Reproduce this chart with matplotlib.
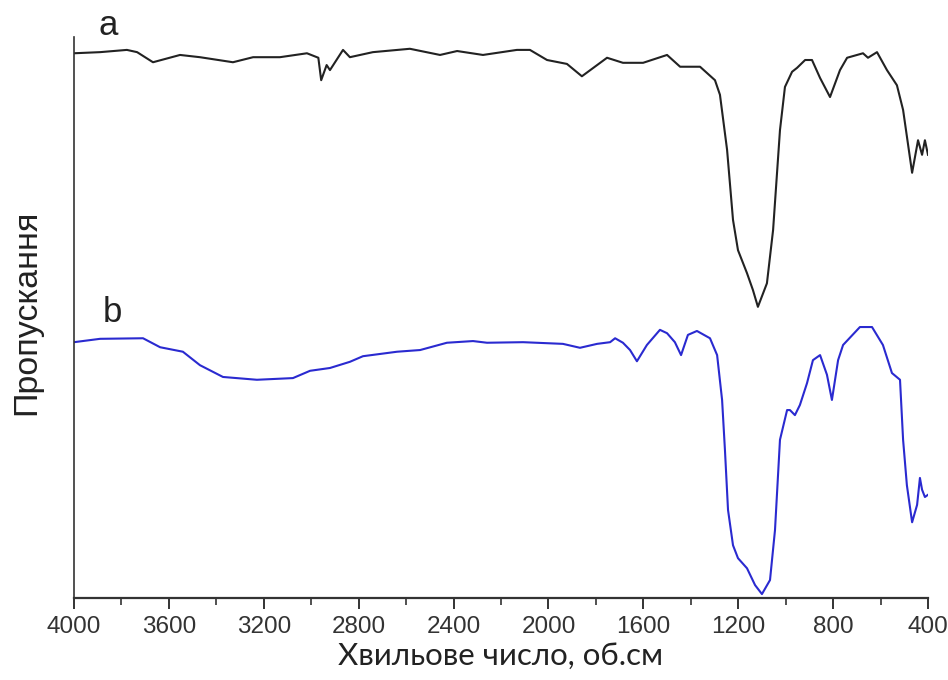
import matplotlib.pyplot as plt
from matplotlib.ticker import MultipleLocator

# спектр a (чорний)
wn_a = [4000, 3890, 3777, 3734, 3667, 3553, 3469, 3330, 3245, 3132, 3018, 2970,
        2958, 2935, 2921, 2866, 2837, 2794, 2740, 2584, 2457, 2385, 2276, 2133,
        2078, 2006, 1922, 1859, 1753, 1686, 1601, 1500, 1445, 1361, 1298, 1277,
        1247, 1222, 1201, 1163, 1138, 1117, 1079, 1053, 1024, 1003, 973, 952,
        918, 889, 855, 813, 771, 741, 674, 653, 615, 573, 531, 505, 467, 442,
        425, 413, 400]
t_a = [97.1, 97.3, 97.7, 97.3, 95.5, 96.8, 96.4, 95.5, 96.4, 96.4, 97.1, 96.3,
       92.3, 95.0, 94.1, 97.7, 96.4, 96.8, 97.3, 97.9, 96.8, 97.5, 96.8, 97.7,
       97.7, 95.9, 95.2, 93.0, 96.3, 95.4, 95.4, 96.8, 94.7, 94.7, 92.3, 89.7,
       79.9, 67.4, 62.0, 57.9, 54.9, 51.9, 56.1, 65.6, 83.4, 91.1, 93.8, 94.5,
       95.9, 95.9, 92.7, 89.3, 94.1, 96.3, 97.1, 96.3, 97.3, 94.1, 91.4, 87.0,
       75.8, 81.6, 79.0, 81.6, 79.0]

# спектр b (синій)
wn_b = [4000, 3890, 3709, 3637, 3541, 3469, 3372, 3229, 3077, 3005, 2921, 2837,
        2782, 2638, 2541, 2428, 2318, 2259, 2107, 1939, 1867, 1795, 1740, 1719,
        1686, 1656, 1627, 1585, 1530, 1500, 1467, 1441, 1412, 1374, 1319, 1289,
        1268, 1256, 1243, 1222, 1201, 1163, 1129, 1100, 1066, 1045, 1024, 994,
        982, 961, 940, 910, 885, 855, 826, 805, 779, 758, 687, 636, 590, 552,
        518, 505, 489, 467, 446, 434, 425, 413, 400]
t_b = [45.6, 46.2, 46.3, 44.7, 43.9, 41.5, 39.4, 38.9, 39.2, 40.5, 41.0, 42.1,
       43.1, 43.9, 44.2, 45.5, 45.8, 45.5, 45.6, 45.3, 44.6, 45.3, 45.6, 46.3,
       45.5, 44.2, 42.2, 45.1, 47.8, 47.2, 45.6, 43.3, 46.9, 47.6, 46.3, 43.3,
       35.3, 26.4, 15.7, 9.4, 7.1, 5.3, 2.3, 0.7, 3.2, 12.1, 28.2, 33.5,
       33.5, 32.6, 34.4, 38.3, 42.4, 43.3, 39.8, 35.3, 42.4, 45.1, 48.3, 48.3,
       45.1, 40.1, 38.9, 28.2, 20.1, 13.5, 16.6, 21.4, 19.3, 18.0, 18.4]

plt.rcParams['font.family'] = ['Liberation Sans', 'DejaVu Sans']

fig = plt.figure(figsize=(9.48, 6.8), dpi=100)
ax = fig.add_axes([74 / 948, 82 / 680, 854 / 948, 561 / 680])

ax.plot(wn_a, t_a, color='#222222', lw=1.5)
ax.plot(wn_b, t_b, color='#2a2ad0', lw=1.5)

ax.set_xlim(4000, 400)
ax.set_ylim(0, 100)

ax.text(3857, 100.3, 'a', fontsize=25, ha='center', va='baseline', color='#222222')
ax.text(3840, 49.2, 'b', fontsize=25, ha='center', va='baseline', color='#222222')

for s in ['top', 'right']:
    ax.spines[s].set_visible(False)
ax.spines['left'].set_color('#333333')
ax.spines['left'].set_linewidth(1.2)
ax.spines['bottom'].set_color('#333333')
ax.spines['bottom'].set_linewidth(1.6)

ax.set_yticks([])
ax.xaxis.set_major_locator(MultipleLocator(400))
ax.xaxis.set_minor_locator(MultipleLocator(200))
ax.tick_params(axis='x', which='major', direction='out', length=8, width=1.4,
               color='#333333', labelsize=17.5, labelcolor='#333333', pad=5)
ax.tick_params(axis='x', which='minor', direction='out', length=5, width=1.2,
               color='#333333')

ax.set_xlabel('Хвильове число, об.см', fontsize=22.5, family=['Lato', 'DejaVu Sans'],
              color='#222222', labelpad=3)
ax.set_ylabel('Пропускання', fontsize=24.5, color='#222222')
ax.yaxis.set_label_coords(-0.037, 0.51)

fig.savefig('out.png', dpi=100)
